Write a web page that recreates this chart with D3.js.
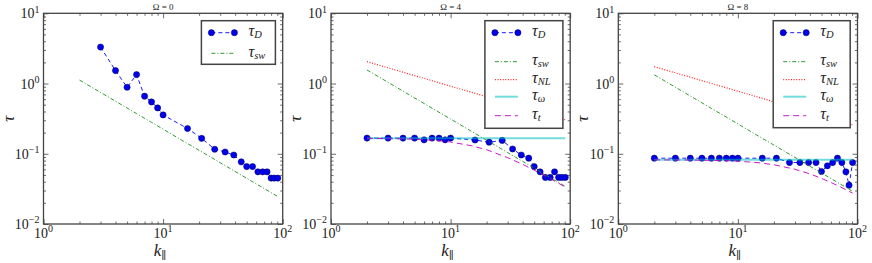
<!DOCTYPE html>
<html>
<head>
<meta charset="utf-8">
<script src="https://cdn.jsdelivr.net/npm/d3@7"></script>
<style>
  body { margin: 0; background: #fff; }
  svg { display: block; font-family: "Liberation Serif", "DejaVu Serif", serif; }
</style>
</head>
<body>
<svg id="chart" width="872" height="263"></svg>
<script>
// values
const kD1 = [3, 4, 5, 6, 7, 8, 9, 10, 16, 21, 27, 33, 39, 45, 50, 56, 62, 68, 74, 80, 85, 91];
const tauD1 = [3.3, 1.53, 0.885, 1.34, 0.66, 0.547, 0.45, 0.357, 0.229, 0.166, 0.116, 0.106, 0.096, 0.0767, 0.0658, 0.0658, 0.0553, 0.0553, 0.0553, 0.045, 0.045, 0.045];

const kD = [2, 3, 4, 5, 6, 7, 8, 9, 10, 16, 21, 27, 33, 39, 45, 50, 56, 62, 68, 74, 80, 85, 91];
const tauD2 = [0.167, 0.167, 0.167, 0.167, 0.158, 0.167, 0.167, 0.158, 0.167, 0.157, 0.146, 0.155, 0.117, 0.096, 0.0865, 0.0658, 0.0553, 0.046, 0.046, 0.0553, 0.046, 0.046, 0.046];
const tauD3 = [0.0865, 0.0865, 0.0865, 0.0865, 0.0865, 0.0865, 0.0865, 0.0865, 0.0865, 0.0865, 0.0865, 0.075, 0.075, 0.075, 0.075, 0.0559, 0.0673, 0.075, 0.0865, 0.075, 0.0553, 0.0357, 0.075];

const kLine = [2, 4, 6, 8, 10, 15, 20, 30, 40, 50, 60, 70, 80, 91];
const tauSw1 = [1.12, 0.56, 0.373, 0.28, 0.224, 0.149, 0.112, 0.0747, 0.056, 0.0448, 0.0373, 0.032, 0.028, 0.0246];
const tauSw2 = [1.56, 0.78, 0.52, 0.39, 0.312, 0.208, 0.156, 0.104, 0.078, 0.0624, 0.052, 0.0446, 0.039, 0.0343];
const tauSw3 = [1.33, 0.665, 0.443, 0.3325, 0.266, 0.177, 0.133, 0.0887, 0.0665, 0.0532, 0.0443, 0.038, 0.0333, 0.0292];
const tauNL2 = [2.05, 1.45, 1.184, 1.025, 0.917, 0.749, 0.648, 0.529, 0.458, 0.41, 0.374, 0.347, 0.324, 0.304];
const tauNL3 = [1.74, 1.23, 1.005, 0.87, 0.778, 0.635, 0.55, 0.449, 0.389, 0.348, 0.318, 0.294, 0.275, 0.258];
const tauT2 = [0.166, 0.163, 0.159, 0.153, 0.147, 0.130, 0.114, 0.088, 0.0707, 0.0584, 0.0496, 0.0431, 0.038, 0.0336];
const tauT3 = [0.0819, 0.0814, 0.0806, 0.0796, 0.0784, 0.0744, 0.0698, 0.0602, 0.0517, 0.0446, 0.039, 0.0345, 0.0308, 0.0275];

const kOm = [2, 91];
const tauOm2 = [0.166, 0.166];
const tauOm3 = [0.082, 0.082];

const titles = ["\u03A9 = 0", "\u03A9 = 4", "\u03A9 = 8"];
const xTicks = [1, 10, 100];
const yTicks = [0.01, 0.1, 1, 10];

// series styles
const styles = {
    D:  {color: "#0000ff", dash: "4,3", width: 0.9, label: "D"},
    sw: {color: "#1a8c1a", dash: "4,2,1,2", width: 0.9, label: "sw"},
    NL: {color: "#ff2020", dash: "1,1.6", width: 1.2, label: "NL"},
    om: {color: "#00bfbf", dash: null, width: 2, opacity: 0.55, label: "\u03C9"},
    t:  {color: "#bf00bf", dash: "6,4", width: 0.9, label: "t"}
};

const panels = [
    {left: 43.5, lw: 74, lh: 43.6, rows: [12, 32.6], series: [
        {key: "D", k: kD1, v: tauD1},
        {key: "sw", k: kLine, v: tauSw1}]},
    {left: 331, lw: 78, lh: 107.6, rows: [12, 41, 59, 76, 95], series: [
        {key: "D", k: kD, v: tauD2},
        {key: "sw", k: kLine, v: tauSw2},
        {key: "NL", k: kLine, v: tauNL2},
        {key: "om", k: kOm, v: tauOm2},
        {key: "t", k: kLine, v: tauT2}]},
    {left: 618.3, lw: 77, lh: 107, rows: [12, 41, 59, 76, 95], series: [
        {key: "D", k: kD, v: tauD3},
        {key: "sw", k: kLine, v: tauSw3},
        {key: "NL", k: kLine, v: tauNL3},
        {key: "om", k: kOm, v: tauOm3},
        {key: "t", k: kLine, v: tauT3}]}
];

const plotTop = 13.3, w = 239.2, h = 210.7;
const svg = d3.select("#chart");

function minors(lo, hi) {
    let out = [];
    for (let d = lo; d < hi; d *= 10)
        for (let m = 2; m <= 9; m++) out.push(d * m);
    return out;
}

function expLabel(sel, v) {
    let e = Math.round(Math.log10(v));
    sel.text("10");
    sel.append("tspan").attr("dy", "-0.55em").attr("font-size", "10px")
        .text(e < 0 ? "\u2212" + (-e) : String(e));
}

panels.forEach((p, i) => {
    const g = svg.append("g").attr("transform", `translate(${p.left},${plotTop})`);
    const x = d3.scaleLog().domain([1, 100]).range([0, w]);
    const y = d3.scaleLog().domain([0.01, 10]).range([h, 0]);

    // ticks on all four sides, pointing inward
    const axes = [
        [d3.axisBottom(x), `translate(0,${h})`, xTicks, minors(1, 100)],
        [d3.axisTop(x), null, xTicks, minors(1, 100)],
        [d3.axisLeft(y), null, yTicks, minors(0.01, 10)],
        [d3.axisRight(y), `translate(${w},0)`, yTicks, minors(0.01, 10)]
    ];
    axes.forEach(([ax, tr, major, minor]) => {
        [[major, -5], [minor, -2.5]].forEach(([vals, len]) => {
            const a = g.append("g").attr("transform", tr)
                .call(ax.tickValues(vals).tickSize(len).tickFormat(""));
            a.select(".domain").remove();
            a.selectAll("line").attr("stroke", "#444").attr("stroke-width", 0.8);
        });
    });

    g.append("rect").attr("width", w).attr("height", h)
        .attr("fill", "none").attr("stroke", "#444").attr("stroke-width", 1.3);

    // tick labels
    g.selectAll(".xl").data(xTicks).enter().append("text")
        .attr("x", d => x(d)).attr("y", h + 14)
        .attr("text-anchor", "middle").attr("font-size", "14px").attr("fill", "#222")
        .each(function (d) { expLabel(d3.select(this), d); });
    g.selectAll(".yl").data(yTicks).enter().append("text")
        .attr("x", -4).attr("y", d => y(d) + 5)
        .attr("text-anchor", "end").attr("font-size", "14px").attr("fill", "#222")
        .each(function (d) { expLabel(d3.select(this), d); });

    g.append("text").attr("x", w / 2).attr("y", -3).attr("text-anchor", "middle")
        .attr("font-size", "9px").attr("fill", "#222").text(titles[i]);

    const xl = g.append("text").attr("x", w / 2 - 3).attr("y", h + 32)
        .attr("text-anchor", "middle").attr("font-size", "17px").attr("font-style", "italic").attr("fill", "#222");
    xl.append("tspan").text("k");
    xl.append("tspan").attr("dy", "0.3em").attr("font-size", "11px").attr("font-style", "normal")
        .attr("font-family", "DejaVu Serif").attr("fill", "#222").text("\u2225");

    g.append("text").attr("transform", `translate(-30,${h / 2}) rotate(-90)`)
        .attr("text-anchor", "middle").attr("font-size", "17px").attr("font-style", "italic")
        .attr("fill", "#222").text("\u03C4");

    // series
    const line = d3.line().x(d => x(d[0])).y(d => y(d[1]));
    const layer = g.append("g");
    p.series.forEach(s => {
        const st = styles[s.key];
        const pts = s.k.map((k, j) => [k, s.v[j]]);
        layer.append("path").datum(pts).attr("d", line)
            .attr("fill", "none").attr("stroke", st.color).attr("stroke-width", st.width)
            .attr("stroke-opacity", st.opacity || 1)
            .attr("stroke-dasharray", st.dash);
        if (s.key === "D") {
            layer.selectAll(".pt").data(pts).enter().append("circle")
                .attr("cx", d => x(d[0])).attr("cy", d => y(d[1])).attr("r", 3.1)
                .attr("fill", "#0000ee").attr("stroke", "#000050").attr("stroke-width", 0.5);
        }
    });

    // legend
    const lg = g.append("g").attr("transform", `translate(${w - 7.3 - p.lw},7.4)`);
    lg.append("rect").attr("width", p.lw).attr("height", p.lh)
        .attr("fill", "#fff").attr("stroke", "#444").attr("stroke-width", 1.5);
    p.series.forEach((s, j) => {
        const st = styles[s.key];
        const ly = p.rows[j];
        lg.append("line").attr("x1", 10).attr("x2", 33).attr("y1", ly).attr("y2", ly)
            .attr("stroke", st.color).attr("stroke-width", st.width)
            .attr("stroke-opacity", st.opacity || 1).attr("stroke-dasharray", st.dash);
        if (s.key === "D") {
            [10, 33].forEach(cx => lg.append("circle").attr("cx", cx).attr("cy", ly).attr("r", 3.1)
                .attr("fill", "#0000ee").attr("stroke", "#000050").attr("stroke-width", 0.5));
        }
        const t = lg.append("text").attr("x", 47).attr("y", ly + 3.5)
            .attr("font-size", "16px").attr("font-style", "italic").attr("fill", "#222");
        t.append("tspan").text("\u03C4");
        t.append("tspan").attr("dy", "0.2em").attr("font-size", "10.5px").text(st.label);
    });
});
</script>
</body>
</html>
